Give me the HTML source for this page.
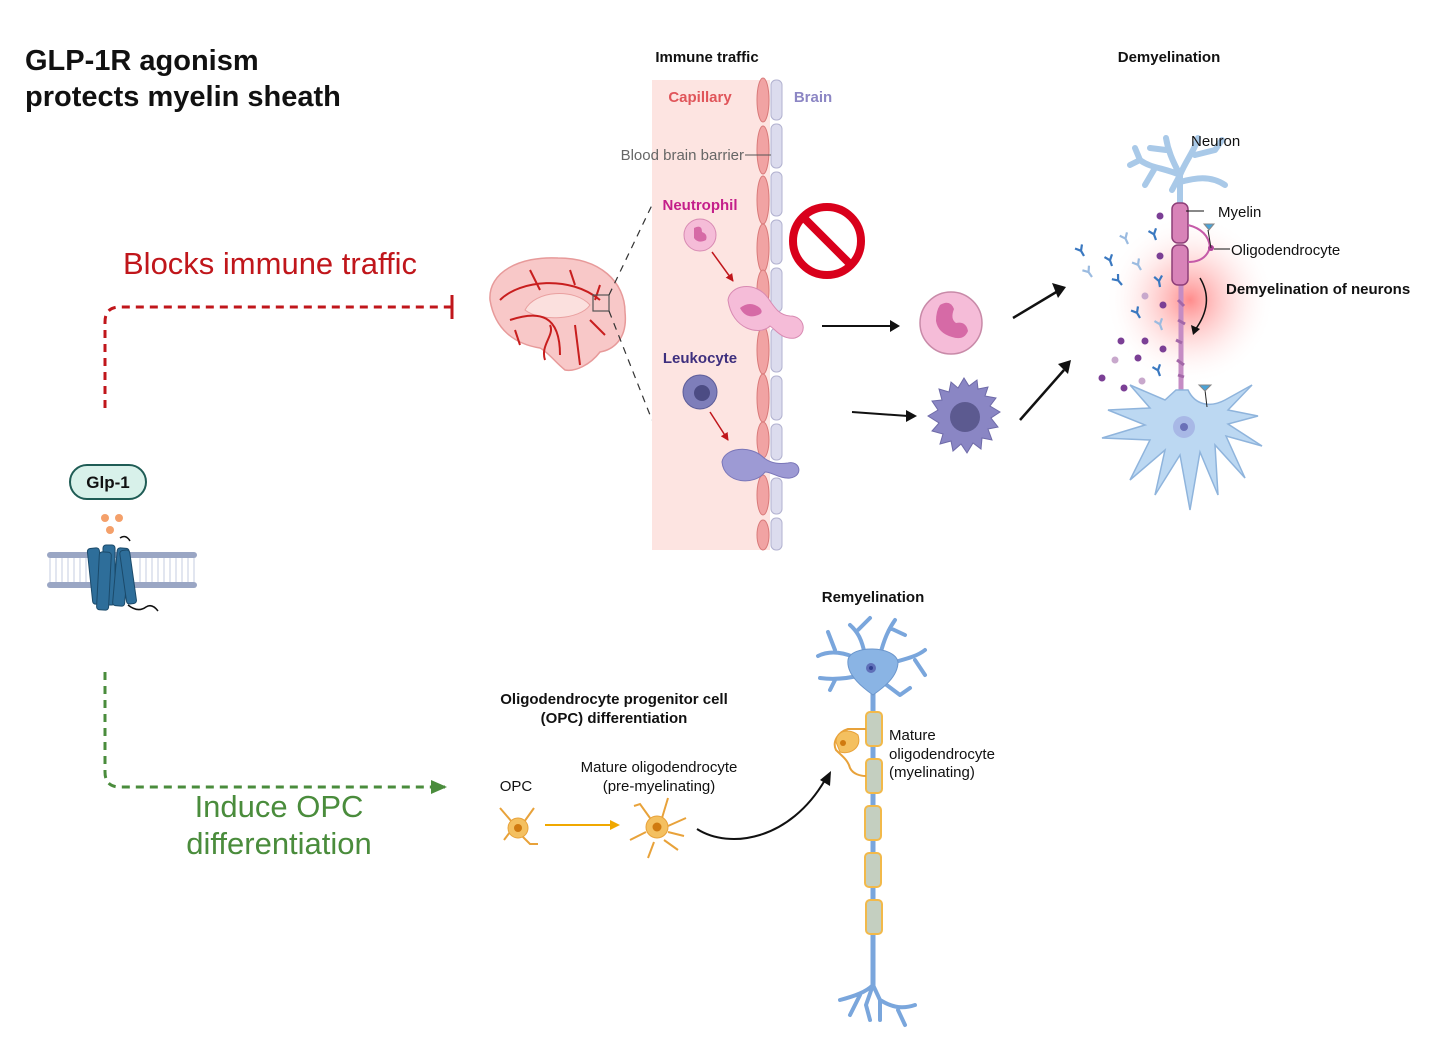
<!DOCTYPE html>
<html><head><meta charset="utf-8"><style>
html,body{margin:0;padding:0;background:#fff}
svg{display:block}
text{font-family:"Liberation Sans",sans-serif}
</style></head><body>
<svg width="1456" height="1042" viewBox="0 0 1456 1042" xmlns="http://www.w3.org/2000/svg">
<defs>
<radialGradient id="glow" cx="0.5" cy="0.5" r="0.5">
<stop offset="0" stop-color="#f77" stop-opacity="0.85"/>
<stop offset="0.5" stop-color="#fbb" stop-opacity="0.45"/>
<stop offset="1" stop-color="#fff" stop-opacity="0"/>
</radialGradient>
<marker id="ahr" markerWidth="8" markerHeight="8" refX="7" refY="4" orient="auto" markerUnits="userSpaceOnUse"><path d="M0,0 L8,4 L0,8 z" fill="#c0161b"/></marker>
<marker id="ahy" markerWidth="10" markerHeight="10" refX="8" refY="5" orient="auto" markerUnits="userSpaceOnUse"><path d="M0,0 L10,5 L0,10 z" fill="#f0a800"/></marker>
<marker id="ahg" markerWidth="16" markerHeight="14" refX="14" refY="7" orient="auto" markerUnits="userSpaceOnUse"><path d="M0,0 L16,7 L0,14 z" fill="#4a8c3c"/></marker>
<g id="ab"><path d="M0,0 L0,-6 M0,-6 L-4,-11 M0,-6 L4,-11" fill="none" stroke-width="2.2"/></g>
</defs>

<text x="25" y="70" font-size="29" font-weight="bold" fill="#111">GLP-1R agonism</text>
<text x="25" y="106" font-size="29" font-weight="bold" fill="#111">protects myelin sheath</text>

<text x="123" y="274" font-size="31" fill="#c0161b">Blocks immune traffic</text>
<path d="M105,408 L105,322 Q105,307 120,307 L452,307" fill="none" stroke="#c0161b" stroke-width="3" stroke-dasharray="8,6"/>
<line x1="452" y1="295" x2="452" y2="319" stroke="#c0161b" stroke-width="3"/>

<path d="M105,672 L105,772 Q105,787 120,787 L445,787" fill="none" stroke="#4a8c3c" stroke-width="3" stroke-dasharray="8,6" marker-end="url(#ahg)"/>
<text x="279" y="817" font-size="31" fill="#4a8c3c" text-anchor="middle">Induce OPC</text>
<text x="279" y="854" font-size="31" fill="#4a8c3c" text-anchor="middle">differentiation</text>

<rect x="70" y="465" width="76" height="34" rx="17" fill="#d8f1ea" stroke="#1f5c55" stroke-width="2"/>
<text x="108" y="488" font-size="17" font-weight="bold" fill="#111" text-anchor="middle">Glp-1</text>
<circle cx="105" cy="518" r="4" fill="#f4a06a"/><circle cx="119" cy="518" r="4" fill="#f4a06a"/><circle cx="110" cy="530" r="4" fill="#f4a06a"/>
<g fill="#9aa6c4">
<rect x="47" y="552" width="150" height="6" rx="3"/>
<rect x="47" y="582" width="150" height="6" rx="3"/>
</g>
<g stroke="#c4cce0" stroke-width="1">
<path d="M50,558 v24 M56,558 v24 M62,558 v24 M68,558 v24 M74,558 v24 M80,558 v24 M86,558 v24 M140,558 v24 M146,558 v24 M152,558 v24 M158,558 v24 M164,558 v24 M170,558 v24 M176,558 v24 M182,558 v24 M188,558 v24 M194,558 v24"/>
</g>
<g fill="#2e6e9a" stroke="#1b4a6a" stroke-width="1">
<rect x="90" y="548" width="12" height="56" rx="3" transform="rotate(-6 96 576)"/>
<rect x="103" y="545" width="12" height="60" rx="3"/>
<rect x="115" y="548" width="12" height="58" rx="3" transform="rotate(5 121 576)"/>
<rect x="98" y="552" width="12" height="58" rx="3" transform="rotate(3 104 580)"/>
<rect x="123" y="550" width="10" height="54" rx="3" transform="rotate(-8 128 576)"/>
</g>
<path d="M120,538 q6,-4 10,3 M128,605 q10,8 18,2 q6,-4 12,4" fill="none" stroke="#111" stroke-width="1.5"/>

<g>
<path d="M490,300 C488,272 520,256 558,258 C600,258 625,282 625,312 C628,340 612,350 600,352 C590,365 575,372 565,370 C555,362 548,352 540,348 C515,344 495,330 490,300 z" fill="#f8c8c8" stroke="#e79a9a" stroke-width="1.5"/>
<path d="M525,310 C535,290 575,288 590,305 C580,320 540,322 525,310 z" fill="#fbe0de" stroke="#e9a0a0"/>
<path d="M500,300 C520,280 570,275 600,300 M510,320 C540,310 560,315 560,355 M550,325 C555,335 540,345 545,360 M530,270 L540,290 M570,270 L575,285 M600,285 L595,300 M515,330 L520,345 M590,320 L605,335 M575,325 L580,365" fill="none" stroke="#c81e1e" stroke-width="2"/>
<rect x="593" y="295" width="16" height="16" fill="none" stroke="#555" stroke-width="1.2"/>
<line x1="609" y1="295" x2="652" y2="205" stroke="#333" stroke-width="1.2" stroke-dasharray="7,6"/>
<line x1="609" y1="311" x2="652" y2="420" stroke="#333" stroke-width="1.2" stroke-dasharray="7,6"/>
</g>

<text x="707" y="62" font-size="15" font-weight="bold" fill="#111" text-anchor="middle">Immune traffic</text>
<rect x="652" y="80" width="118" height="470" fill="#fde4e1"/>
<g fill="#f1a3a3" stroke="#d97a7a" stroke-width="1">
<ellipse cx="763" cy="100" rx="6" ry="22"/><ellipse cx="763" cy="150" rx="6" ry="24"/><ellipse cx="763" cy="200" rx="6" ry="24"/><ellipse cx="763" cy="248" rx="6" ry="24"/><ellipse cx="763" cy="290" rx="6" ry="20"/>
<ellipse cx="763" cy="350" rx="6" ry="24"/><ellipse cx="763" cy="398" rx="6" ry="24"/><ellipse cx="763" cy="440" rx="6" ry="18"/><ellipse cx="763" cy="495" rx="6" ry="20"/><ellipse cx="763" cy="535" rx="6" ry="15"/>
</g>
<g fill="#dcdcee" stroke="#b2b2d0" stroke-width="1">
<rect x="771" y="80" width="11" height="40" rx="5"/><rect x="771" y="124" width="11" height="44" rx="5"/><rect x="771" y="172" width="11" height="44" rx="5"/><rect x="771" y="220" width="11" height="44" rx="5"/><rect x="771" y="268" width="11" height="44" rx="5"/>
<rect x="771" y="328" width="11" height="44" rx="5"/><rect x="771" y="376" width="11" height="44" rx="5"/><rect x="771" y="424" width="11" height="36" rx="5"/><rect x="771" y="478" width="11" height="36" rx="5"/><rect x="771" y="518" width="11" height="32" rx="5"/>
</g>
<text x="700" y="102" font-size="15" font-weight="bold" fill="#e0555a" text-anchor="middle">Capillary</text>
<text x="813" y="102" font-size="15" font-weight="bold" fill="#8c86c4" text-anchor="middle">Brain</text>
<text x="744" y="160" font-size="15" fill="#666" text-anchor="end">Blood brain barrier</text>
<line x1="745" y1="155" x2="771" y2="155" stroke="#555" stroke-width="1"/>
<text x="700" y="210" font-size="15" font-weight="bold" fill="#c41f8a" text-anchor="middle">Neutrophil</text>
<circle cx="700" cy="235" r="16" fill="#f5bcd8" stroke="#d88ab2"/>
<path d="M694,228 q8,-4 8,4 q6,2 4,8 q-8,4 -12,-2 z" fill="#d66aa6"/>
<line x1="712" y1="252" x2="733" y2="281" stroke="#c0161b" stroke-width="1.5" marker-end="url(#ahr)"/>
<path d="M728,300 C730,285 755,280 768,298 C776,310 780,315 790,316 C805,316 808,334 795,338 C782,340 776,330 770,326 C760,336 732,330 728,300 z" fill="#f5bcd8" stroke="#d88ab2"/>
<path d="M740,308 q10,-8 20,0 q5,6 -5,8 q-10,2 -15,-8 z" fill="#d66aa6"/>
<text x="700" y="363" font-size="15" font-weight="bold" fill="#3e2f7e" text-anchor="middle">Leukocyte</text>
<circle cx="700" cy="392" r="17" fill="#7e7eba" stroke="#5c5c98"/>
<circle cx="702" cy="393" r="8" fill="#4c4c84"/>
<line x1="710" y1="412" x2="728" y2="440" stroke="#c0161b" stroke-width="1.5" marker-end="url(#ahr)"/>
<path d="M722,462 C724,448 750,444 764,458 C772,464 780,464 788,463 C800,460 804,476 790,478 C780,479 772,472 765,472 C755,486 724,484 722,462 z" fill="#9d9ad4" stroke="#7a76b8"/>

<circle cx="827" cy="241" r="34" fill="none" stroke="#d9001b" stroke-width="8"/>
<line x1="803" y1="217" x2="851" y2="265" stroke="#d9001b" stroke-width="8"/>

<line x1="822" y1="326" x2="892" y2="326" stroke="#111" stroke-width="2"/>
<path d="M890,320 L900,326 L890,332 z" fill="#111"/>
<path d="M852,412 L908,416" stroke="#111" stroke-width="2"/>
<path d="M906,410 L917,416 L906,422 z" fill="#111"/>
<circle cx="951" cy="323" r="31" fill="#f5bcd8" stroke="#c88aa8" stroke-width="1.5"/>
<path d="M940,305 q10,-6 14,4 q-4,10 2,14 q10,-2 12,8 q-4,10 -16,6 q-14,-4 -16,-16 q0,-10 4,-16 z" fill="#d66aa6"/>
<g transform="translate(964,416)">
<path d="M0,-38 L5,-30 L13,-36 L14,-27 L24,-29 L21,-20 L32,-18 L26,-10 L36,-4 L27,2 L34,11 L24,13 L28,24 L18,22 L17,33 L9,27 L3,37 L-3,28 L-11,35 L-13,25 L-24,28 L-21,18 L-32,15 L-25,7 L-36,0 L-26,-6 L-32,-15 L-22,-16 L-25,-27 L-15,-24 L-13,-34 L-6,-28 z" fill="#8a86c4" stroke="#6e6aa8"/>
<circle cx="1" cy="1" r="15" fill="#5c5a90"/>
</g>
<line x1="1013" y1="318" x2="1058" y2="291" stroke="#111" stroke-width="2.5"/>
<path d="M1052,283 L1066,287 L1058,298 z" fill="#111"/>
<line x1="1020" y1="420" x2="1064" y2="370" stroke="#111" stroke-width="2.5"/>
<path d="M1058,364 L1071,360 L1068,374 z" fill="#111"/>

<text x="1169" y="62" font-size="15" font-weight="bold" fill="#111" text-anchor="middle">Demyelination</text>
<circle cx="1190" cy="300" r="85" fill="url(#glow)"/>
<g fill="none" stroke="#a9c9e8" stroke-width="6" stroke-linecap="round" stroke-linejoin="round">
<path d="M1180,205 L1180,175 M1180,175 C1165,168 1150,168 1140,160 L1130,165 M1140,160 L1135,148 M1180,175 C1172,160 1168,150 1166,138 M1180,175 C1186,160 1195,150 1198,138 M1195,155 L1215,150 L1222,140 M1180,182 C1195,178 1210,175 1225,185 M1155,168 L1145,185 M1166,150 L1150,148 M1180,175 L1172,190"/>
</g>
<line x1="1181" y1="285" x2="1181" y2="390" stroke="#c58cc4" stroke-width="5"/>
<path d="M1178,300 l6,6 M1178,320 l7,4 M1176,340 l6,3 M1177,360 l7,5 M1178,375 l6,2" stroke="#a367a8" stroke-width="3"/>
<rect x="1172" y="203" width="16" height="40" rx="6" fill="#d883b8" stroke="#8e3e78" stroke-width="1.5"/>
<rect x="1172" y="245" width="16" height="40" rx="6" fill="#d883b8" stroke="#8e3e78" stroke-width="1.5"/>
<path d="M1188,225 q20,5 22,22 M1188,262 q18,0 22,-15" fill="none" stroke="#c55aa8" stroke-width="2"/>
<circle cx="1211" cy="248" r="3" fill="#b0439a"/>
<line x1="1211" y1="248" x2="1208" y2="230" stroke="#222"/>
<path d="M1204,224 l10,0 l-5,6 z" fill="#4aa3d8" stroke="#888"/>
<line x1="1186" y1="211" x2="1204" y2="211" stroke="#111"/>
<line x1="1214" y1="249" x2="1230" y2="249" stroke="#111"/>
<text x="1191" y="146" font-size="15" fill="#111">Neuron</text>
<text x="1218" y="217" font-size="15" fill="#111">Myelin</text>
<text x="1231" y="255" font-size="15" fill="#111">Oligodendrocyte</text>
<text x="1226" y="294" font-size="15" font-weight="bold" fill="#111">Demyelination of neurons</text>
<path d="M1200,278 q15,25 -5,52" fill="none" stroke="#111" stroke-width="1.5"/>
<path d="M1191,325 L1193,335 L1200,329 z" fill="#111"/>
<g fill="#7b3f95">
<circle cx="1160" cy="216" r="3.5"/><circle cx="1160" cy="256" r="3.5"/><circle cx="1163" cy="305" r="3.5"/><circle cx="1121" cy="341" r="3.5"/><circle cx="1145" cy="341" r="3.5"/><circle cx="1163" cy="349" r="3.5"/><circle cx="1138" cy="358" r="3.5"/><circle cx="1102" cy="378" r="3.5"/><circle cx="1124" cy="388" r="3.5"/>
</g>
<g fill="#c8a8cc"><circle cx="1145" cy="296" r="3.5"/><circle cx="1115" cy="360" r="3.5"/><circle cx="1142" cy="381" r="3.5"/></g>
<g stroke="#3a78c0">
<use href="#ab" transform="translate(1084,256) rotate(-30)"/>
<use href="#ab" transform="translate(1112,266) rotate(-20)"/>
<use href="#ab" transform="translate(1156,240) rotate(-20)"/>
<use href="#ab" transform="translate(1122,285) rotate(-40)"/>
<use href="#ab" transform="translate(1160,287) rotate(-10)"/>
<use href="#ab" transform="translate(1140,318) rotate(-30)"/>
<use href="#ab" transform="translate(1160,376) rotate(-20)"/>
</g>
<g stroke="#9bbbe0">
<use href="#ab" transform="translate(1128,244) rotate(-25)"/>
<use href="#ab" transform="translate(1092,277) rotate(-35)"/>
<use href="#ab" transform="translate(1141,270) rotate(-30)"/>
<use href="#ab" transform="translate(1162,330) rotate(-20)"/>
</g>
<g fill="#bcd8f2" stroke="#8fb4dc" stroke-width="1.5">
<path d="M1176,390 L1188,390 C1195,405 1210,408 1225,400 L1252,385 L1228,410 L1258,416 L1228,424 L1262,446 L1226,436 L1245,478 L1215,445 L1218,495 L1200,452 L1190,510 L1180,455 L1155,495 L1165,450 L1130,480 L1150,440 L1102,438 L1145,425 L1108,410 L1150,408 L1130,385 L1165,400 z"/>
</g>
<circle cx="1184" cy="427" r="11" fill="#a8b8e6"/><circle cx="1184" cy="427" r="4" fill="#6a70b8"/>
<line x1="1207" y1="407" x2="1205" y2="390" stroke="#222"/>
<path d="M1199,385 l12,0 l-6,6 z" fill="#4aa3d8" stroke="#888"/>

<text x="614" y="704" font-size="15" font-weight="bold" fill="#111" text-anchor="middle">Oligodendrocyte progenitor cell</text>
<text x="614" y="723" font-size="15" font-weight="bold" fill="#111" text-anchor="middle">(OPC) differentiation</text>
<text x="516" y="791" font-size="15" fill="#111" text-anchor="middle">OPC</text>
<text x="659" y="772" font-size="15" fill="#111" text-anchor="middle">Mature oligodendrocyte</text>
<text x="659" y="791" font-size="15" fill="#111" text-anchor="middle">(pre-myelinating)</text>
<g stroke="#e8a23a" stroke-width="2" fill="none">
<path d="M512,822 l-12,-14 M524,822 l10,-14 M520,834 l10,10 l8,0 M510,832 l-6,8"/>
<path d="M650,818 l-10,-14 l-6,2 M662,818 l6,-20 M668,826 l18,-8 M668,832 l16,4 M664,840 l14,10 M654,842 l-6,16 M646,832 l-16,8"/>
</g>
<circle cx="518" cy="828" r="10" fill="#f4c060" stroke="#e8a23a"/><circle cx="518" cy="828" r="4" fill="#d07a10"/>
<circle cx="657" cy="827" r="11" fill="#f4c060" stroke="#e8a23a"/><circle cx="657" cy="827" r="4.5" fill="#d07a10"/>
<line x1="545" y1="825" x2="618" y2="825" stroke="#f0a800" stroke-width="2" marker-end="url(#ahy)"/>
<path d="M697,829 C730,850 790,840 825,780" fill="none" stroke="#111" stroke-width="2"/>
<path d="M820,780 L831,771 L830,786 z" fill="#111"/>

<text x="873" y="602" font-size="15" font-weight="bold" fill="#111" text-anchor="middle">Remyelination</text>
<g fill="none" stroke="#7aa6dc" stroke-width="4" stroke-linecap="round" stroke-linejoin="round">
<path d="M860,660 C845,652 830,650 818,656 M835,650 L828,632 M865,655 C862,640 858,632 850,625 M858,630 L870,618 M880,655 C884,640 888,630 895,620 M890,628 L905,635 M885,665 C900,660 915,658 925,650 M915,660 L925,675 M862,675 C850,678 835,680 820,678 M835,680 L830,690 M880,680 L900,695 L910,688"/>
<path d="M873,985 C866,992 855,996 840,1000 M860,995 L850,1015 M873,985 L880,1000 L880,1020 M880,1000 C890,1006 900,1010 915,1005 M873,985 L866,1005 L870,1020 M898,1010 L905,1025"/>
</g>
<line x1="873" y1="680" x2="873" y2="990" stroke="#7aa6dc" stroke-width="5"/>
<path d="M848,660 C850,645 895,645 898,662 C898,678 880,690 873,695 C866,690 846,676 848,660 z" fill="#8ab4e4" stroke="#6b96cc"/>
<circle cx="871" cy="668" r="5" fill="#5f6fb8"/><circle cx="871" cy="668" r="2" fill="#2f3f90"/>
<g fill="#c4cfc0" stroke="#f2b94a" stroke-width="2">
<rect x="866" y="712" width="16" height="34" rx="4"/>
<rect x="866" y="759" width="16" height="34" rx="4"/>
<rect x="865" y="806" width="16" height="34" rx="4"/>
<rect x="865" y="853" width="16" height="34" rx="4"/>
<rect x="866" y="900" width="16" height="34" rx="4"/>
</g>
<path d="M866,729 L848,729 C838,732 832,742 836,750 C842,756 848,760 850,768 C853,774 860,776 866,776" fill="none" stroke="#e8a23a" stroke-width="2"/>
<path d="M836,742 C836,730 850,728 858,735 C862,748 850,755 840,752 z" fill="#f4c060" stroke="#e8a23a"/>
<circle cx="843" cy="743" r="3" fill="#d07a10"/>
<text x="889" y="740" font-size="15" fill="#111">Mature</text>
<text x="889" y="759" font-size="15" fill="#111">oligodendrocyte</text>
<text x="889" y="777" font-size="15" fill="#111">(myelinating)</text>
</svg>
</body></html>
